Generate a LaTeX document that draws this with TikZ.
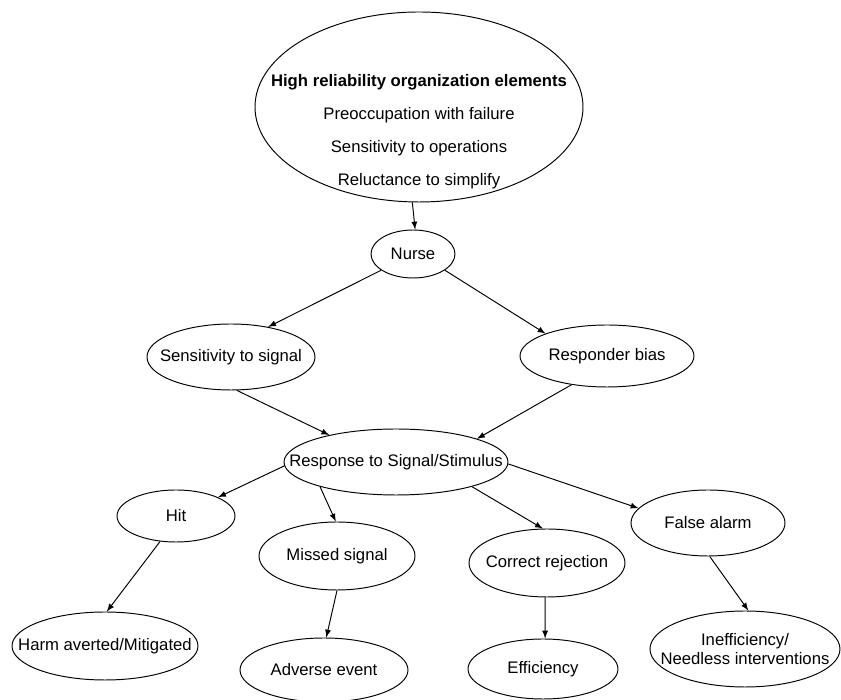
\documentclass[tikz,border=0pt]{standalone}
\usepackage{fontspec}
\setmainfont{Liberation Sans}
\usetikzlibrary{shapes,positioning,arrows}

\begin{document}
\begin{tikzpicture}[every node/.style={on grid},
					bub/.style={draw, ellipse, inner sep=-3cm, align=center,
								font=\fontsize{9.5}{10.5}\selectfont},
					line width=0.55pt,
					>=latex]
	\useasboundingbox (0,0) rectangle (16.82,14);

	\node[bub, minimum width=6.56cm, minimum height=3.8cm, font=\fontsize{9.5}{18.8}\selectfont] (hro) at (8.38,11.86)
		{\rule{0pt}{1.23cm}\textbf{High reliability organization elements}\\
		 Preoccupation with failure\\
		 Sensitivity to operations\\
		 Reluctance to simplify};
	\node[bub, minimum width=1.68cm, minimum height=0.96cm, below left=2.94cm and 0.12cm of hro] (nurse) {Nurse};

	\node[bub, minimum width=3.36cm, minimum height=1.32cm, below left=2.06cm and 3.64cm of nurse] (sens) {Sensitivity to signal};
	\node[bub, minimum width=3.48cm, minimum height=1.24cm, below right=2.04cm and 3.88cm of nurse] (bias) {Responder bias};
	\node[bub, minimum width=4.48cm, minimum height=1.32cm, below left=4.16cm and 0.34cm of nurse] (stim) {Response to Signal/Stimulus};

	\node[bub, minimum width=2.36cm, minimum height=1.04cm, below left=1.08cm and 4.4cm of stim] (hit) {Hit};
	\node[bub, minimum width=3.12cm, minimum height=1.36cm, below left=1.88cm and 1.18cm of stim] (missed) {Missed signal};
	\node[bub, minimum width=3.12cm, minimum height=1.36cm, below right=2.02cm and 3.02cm of stim] (correct) {Correct rejection};
	\node[bub, minimum width=3.08cm, minimum height=1.32cm, below right=1.22cm and 6.24cm of stim] (false) {False alarm};

	\node[bub, minimum width=3.72cm, minimum height=1.36cm, below left=2.6cm and 1.42cm of hit] (harm) {Harm averted/Mitigated};
	\node[bub, minimum width=3.36cm, minimum height=1.28cm, below left=2.28cm and 0.26cm of missed] (adverse) {Adverse event};
	\node[bub, minimum width=3.0cm, minimum height=1.2cm, below left=2.12cm and 0.08cm of correct] (eff) {Efficiency};
	\node[bub, minimum width=3.8cm, minimum height=1.52cm, below right=2.52cm and 0.74cm of false] (ineff) {Inefficiency/\\Needless interventions};

	\draw[->] (hro.266) -- (nurse.85);
	\draw[->] (nurse.207) -- (sens.39);
	\draw[->] (nurse.333) -- (bias.160);
	\draw[->] (sens.280) -- (stim.158);
	\draw[->] (bias.219) -- (stim.16);

	\draw[->] (stim.182) -- (hit.24);
	\draw[->] (stim.198) -- (missed.92);
	\draw[->] (stim.342) -- (correct.97);
	\draw[->] (stim.359) -- (false.168);

	\draw[->] (hit.238) -- (harm.87);
	\draw[->] (missed.270) -- (adverse.86);
	\draw[->] (correct.267) -- (eff.86);
	\draw[->] (false.273) -- (ineff.85);
\end{tikzpicture}
\end{document}
